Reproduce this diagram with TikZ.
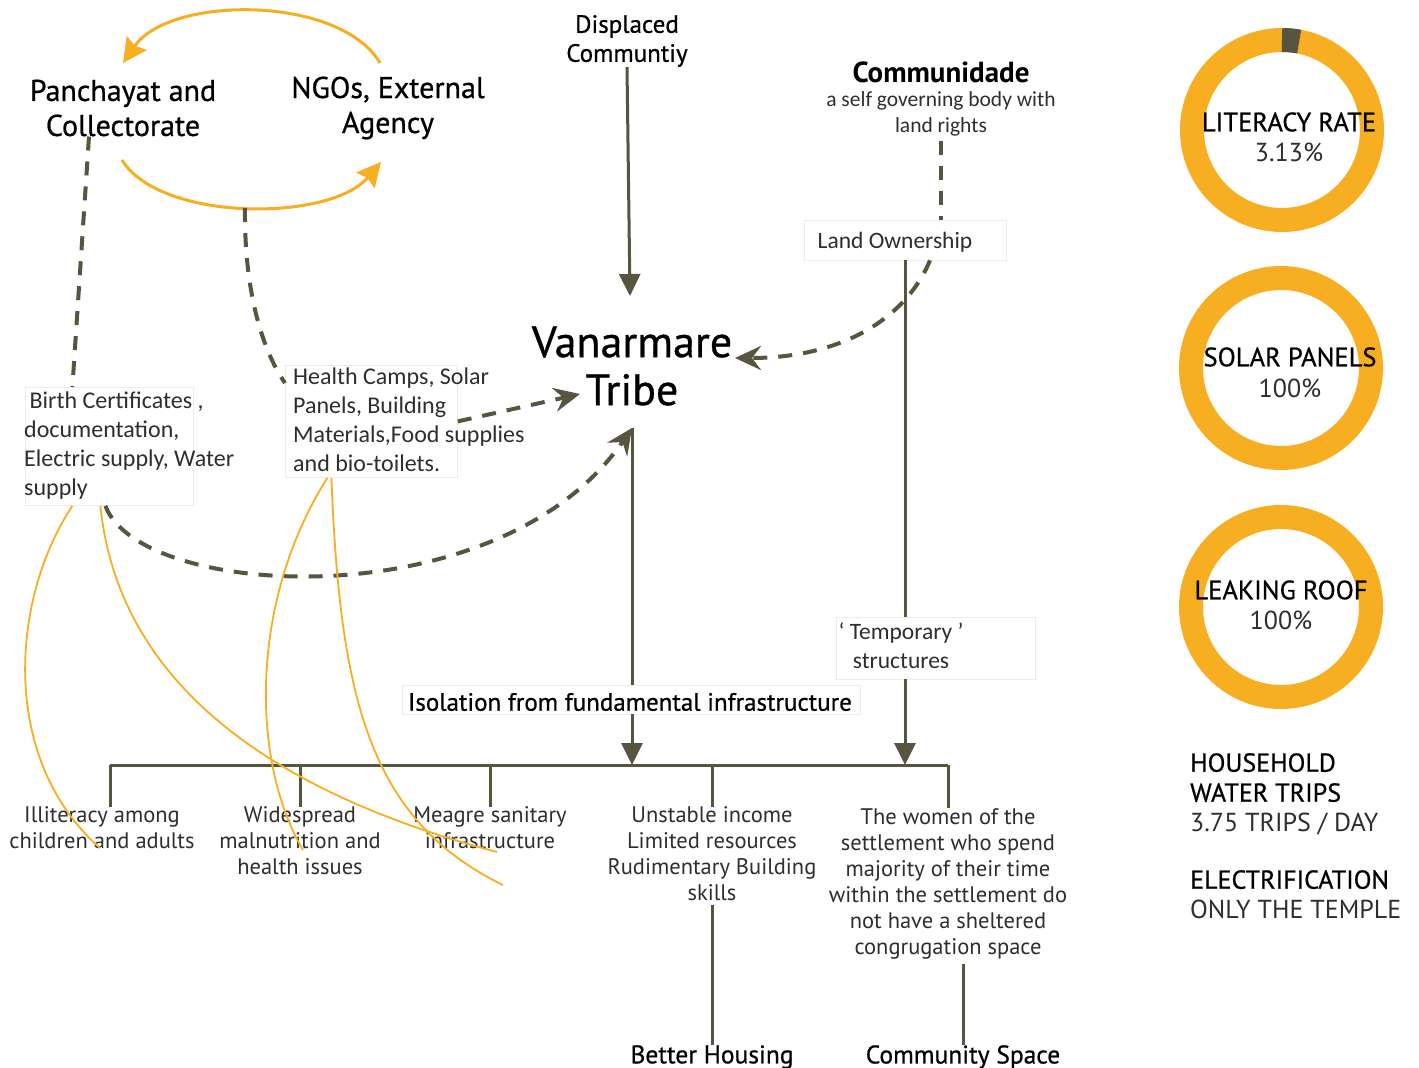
\documentclass[tikz,border=0pt]{standalone}
\usepackage{fontspec}
\setmainfont{PT Sans}
\newfontfamily\medfont{PT Sans}[FakeBold=0.7]
\newfontfamily\calfont{Carlito}
\usetikzlibrary{arrows.meta}
\definecolor{lineol}{HTML}{57553F}
\definecolor{orng}{HTML}{F8AE21}
\definecolor{txtgray}{HTML}{2E2E2E}
\definecolor{boxgray}{HTML}{ECECEC}
\begin{document}
\begin{tikzpicture}[x=1pt,y=-1pt,
  ln/.style={draw=lineol, line width=3pt},
  sarrow/.style={ln, -{Triangle[length=22pt,width=21pt]}},
  dsh/.style={draw=lineol, line width=4pt, dash pattern=on 14pt off 11pt},
  darrow/.style={dsh, -{Stealth[length=26pt,width=24pt,inset=9pt]}},
  oarc/.style={draw=orng, line width=3pt, -{Stealth[length=24pt,width=24pt,inset=3pt]}},
  othin/.style={draw=orng, line width=1.8pt},
  ring/.style={draw=orng, line width=24pt},
  faint/.style={draw=boxgray, line width=0.8pt, inner sep=0pt},
  hd/.style={font=\medfont\fontsize{30}{35}\selectfont, align=center, inner sep=0pt, text=black},
  sub/.style={font=\medfont\fontsize{25}{29}\selectfont, align=center, inner sep=0pt, text=black},
  desc/.style={font=\fontsize{22.5}{26}\selectfont, align=center, inner sep=0pt, text=txtgray},
  cal/.style={font=\calfont\fontsize{24}{29}\selectfont, align=left, inner sep=0pt, text=txtgray},
  bt/.style={font=\medfont\fontsize{25.5}{29}\selectfont, align=center, inner sep=0pt, text=black},
  ct/.style={font=\medfont\fontsize{26.5}{26}\selectfont, inner sep=0pt, text=black},
  cv/.style={font=\fontsize{26}{26}\selectfont, inner sep=0pt, text=txtgray},
  rt/.style={font=\fontsize{26}{30}\selectfont, align=left, inner sep=0pt}
]
\useasboundingbox (0,0) rectangle (1419,1068);
\fill[white] (0,0) rectangle (1419,1068);

% ---------- top left ----------
\node[hd] (pan) at (123,108) {Panchayat and\\Collectorate};
\node[hd] (ngo) at (388,108) {NGOs, External\\Agency};
\coordinate (o1s) at (380,63);
\coordinate (o1e) at (123,63);
\coordinate (o2s) at (122,160);
\coordinate (o2e) at (381,162);
\coordinate (arcbot) at (245,208);
\draw[oarc] (o1s) .. controls (340,-5) and (170,-5) .. (o1e);
\draw[oarc] (o2s) .. controls (160,222) and (330,222) .. (o2e);

% ---------- boxes ----------
\node[faint, minimum width=168, minimum height=118, anchor=north west] (birthbox) at (25,387) {};
\node[cal, anchor=west] (birth) at (24,446) {\ Birth Certificates ,\\documentation,\\Electric supply, Water\\supply};
\node[faint, minimum width=172, minimum height=112, anchor=north west] (healthbox) at (285,365) {};
\node[cal, anchor=west] (health) at (293,420) {Health Camps, Solar\\Panels, Building\\Materials,Food supplies\\and bio-toilets.};

\draw[dsh] ([xshift=-34pt]pan.south) -- ([xshift=-37pt]birthbox.north);
\draw[dsh] (arcbot) .. controls (244,290) and (262,350) .. ([yshift=-18pt]healthbox.north west);

% ---------- centre ----------
\node[sub] (disp) at (627,41) {Displaced\\Communtiy};
\node[font=\medfont\fontsize{44}{48}\selectfont, align=center, inner sep=0pt] (tribe) at (632,366) {Vanarmare\\Tribe};
\coordinate (tipD) at (630,296);
\coordinate (tribeBot) at (632,428);
\coordinate (tipH) at (580,394);
\coordinate (tipL) at (735,358);
\draw[sarrow] (disp.south) -- (tipD);

\node[bt, font=\bfseries\fontsize{29}{30}\selectfont] (comm) at (941,72) {Communidade};
\node[cal, align=center, font=\calfont\fontsize{21.5}{26}\selectfont] (commsub) at (941,114) {a self governing body with\\land rights};
\node[faint, minimum width=202, minimum height=40] (landbox) at (905,240) {};
\node[cal, font=\calfont\fontsize{23.5}{26}\selectfont] (land) at (895,242) {Land Ownership};
\draw[dsh] ([yshift=-4pt]commsub.south) -- (commsub.south |- landbox.north);

\node[faint, minimum width=199, minimum height=62] (tempbox) at (935.5,648) {};
\node[cal, align=center, font=\calfont\fontsize{23.5}{29}\selectfont] (temp) at (901,646) {‘ Temporary ’\\structures};

\node[faint, minimum width=458, minimum height=29] (isobox) at (631,699.5) {};
\node[sub] (iso) at (630,702) {Isolation from fundamental infrastructure};

\coordinate (vx) at (905,0);
\draw[ln] (landbox.south -| vx) -- (tempbox.north -| vx);
\draw[darrow] ([xshift=25pt]landbox.south) .. controls (905,320) and (840,358) .. (tipL);
\draw[darrow] (healthbox.east) -- (tipH);
\draw[darrow] ([xshift=-4pt]birthbox.south) .. controls (140,600) and (500,620) .. (tribeBot);
\draw[ln] (tribeBot) -- (isobox.north -| tribeBot);

% ---------- bus ----------
\coordinate (busL) at (110,765);
\coordinate (busR) at (948,765);
\draw[ln] (busL) -- (busR);
\draw[sarrow] (isobox.south -| tribeBot) -- (tribeBot |- busL);
\draw[sarrow] (tempbox.south -| vx) -- (vx |- busL);

\node[desc] (ill) at (102,828) {Illiteracy among\\children and adults};
\node[desc] (wide) at (300,841) {Widespread\\malnutrition and\\health issues};
\node[desc] (meagre) at (490,828) {Meagre sanitary\\infrastructure};
\node[desc] (unst) at (712,854) {Unstable income\\Limited resources\\Rudimentary Building\\skills};
\node[desc] (women) at (948,884) {The women of the\\settlement who spend\\majority of their time\\within the settlement do\\not have a sheltered\\congrugation space};

\draw[ln] (busL) -- (busL |- ill.north);
\draw[ln] (wide.north |- busL) -- (wide.north);
\draw[ln] (meagre.north |- busL) -- (meagre.north);
\draw[ln] (unst.north |- busL) -- (unst.north);
\draw[ln] (busR) -- (women.north);

\node[bt] (bh) at (712,1057) {Better Housing};
\node[bt] (cs) at (963,1057) {Community Space};
\draw[ln] ([yshift=-4pt]unst.south) -- (bh.north);
\draw[ln] ([yshift=-4pt]cs.north |- women.south) -- (cs.north);

% ---------- thin orange curves ----------
\coordinate (c1e) at (100,848);
\coordinate (c2e) at (497,852);
\coordinate (c3e) at (303,850);
\coordinate (c4e) at (503,885);
\draw[othin] ([xshift=-37pt]birthbox.south) .. controls (10,600) and (0,760) .. (c1e);
\draw[othin] ([xshift=-9pt]birthbox.south) .. controls (120,700) and (300,800) .. (c2e);
\draw[othin] ([xshift=-44pt]healthbox.south) .. controls (250,600) and (250,760) .. (c3e);
\draw[othin] ([xshift=-40pt]healthbox.south) .. controls (340,700) and (370,820) .. (c4e);

% ---------- rings ----------
\draw[ring] (1282,130) circle[radius=90];
\draw[lineol, line width=24pt] (1282,130) ++(-90:90) arc[start angle=-90, end angle=-79, radius=90];
\draw[ring] (1281,368) circle[radius=90];
\draw[ring] (1281,607) circle[radius=90];
\node[ct] (litT) at (1289,122) {LITERACY RATE};
\node[cv] (litV) at (1289,152) {3.13\%};
\node[ct] (solT) at (1290,357) {SOLAR PANELS};
\node[cv] (solV) at (1290,388) {100\%};
\node[ct] (leakT) at (1281,590) {LEAKING ROOF};
\node[cv] (leakV) at (1281,620) {100\%};

\node[rt, anchor=north west] (hh) at (1190,753) {{\medfont HOUSEHOLD}\\{\medfont WATER TRIPS}\\{\color{txtgray}3.75 TRIPS / DAY}};
\node[rt, anchor=north west] (el) at (1190,870) {{\medfont ELECTRIFICATION}\\{\color{txtgray}ONLY THE TEMPLE}};
\end{tikzpicture}
\end{document}
